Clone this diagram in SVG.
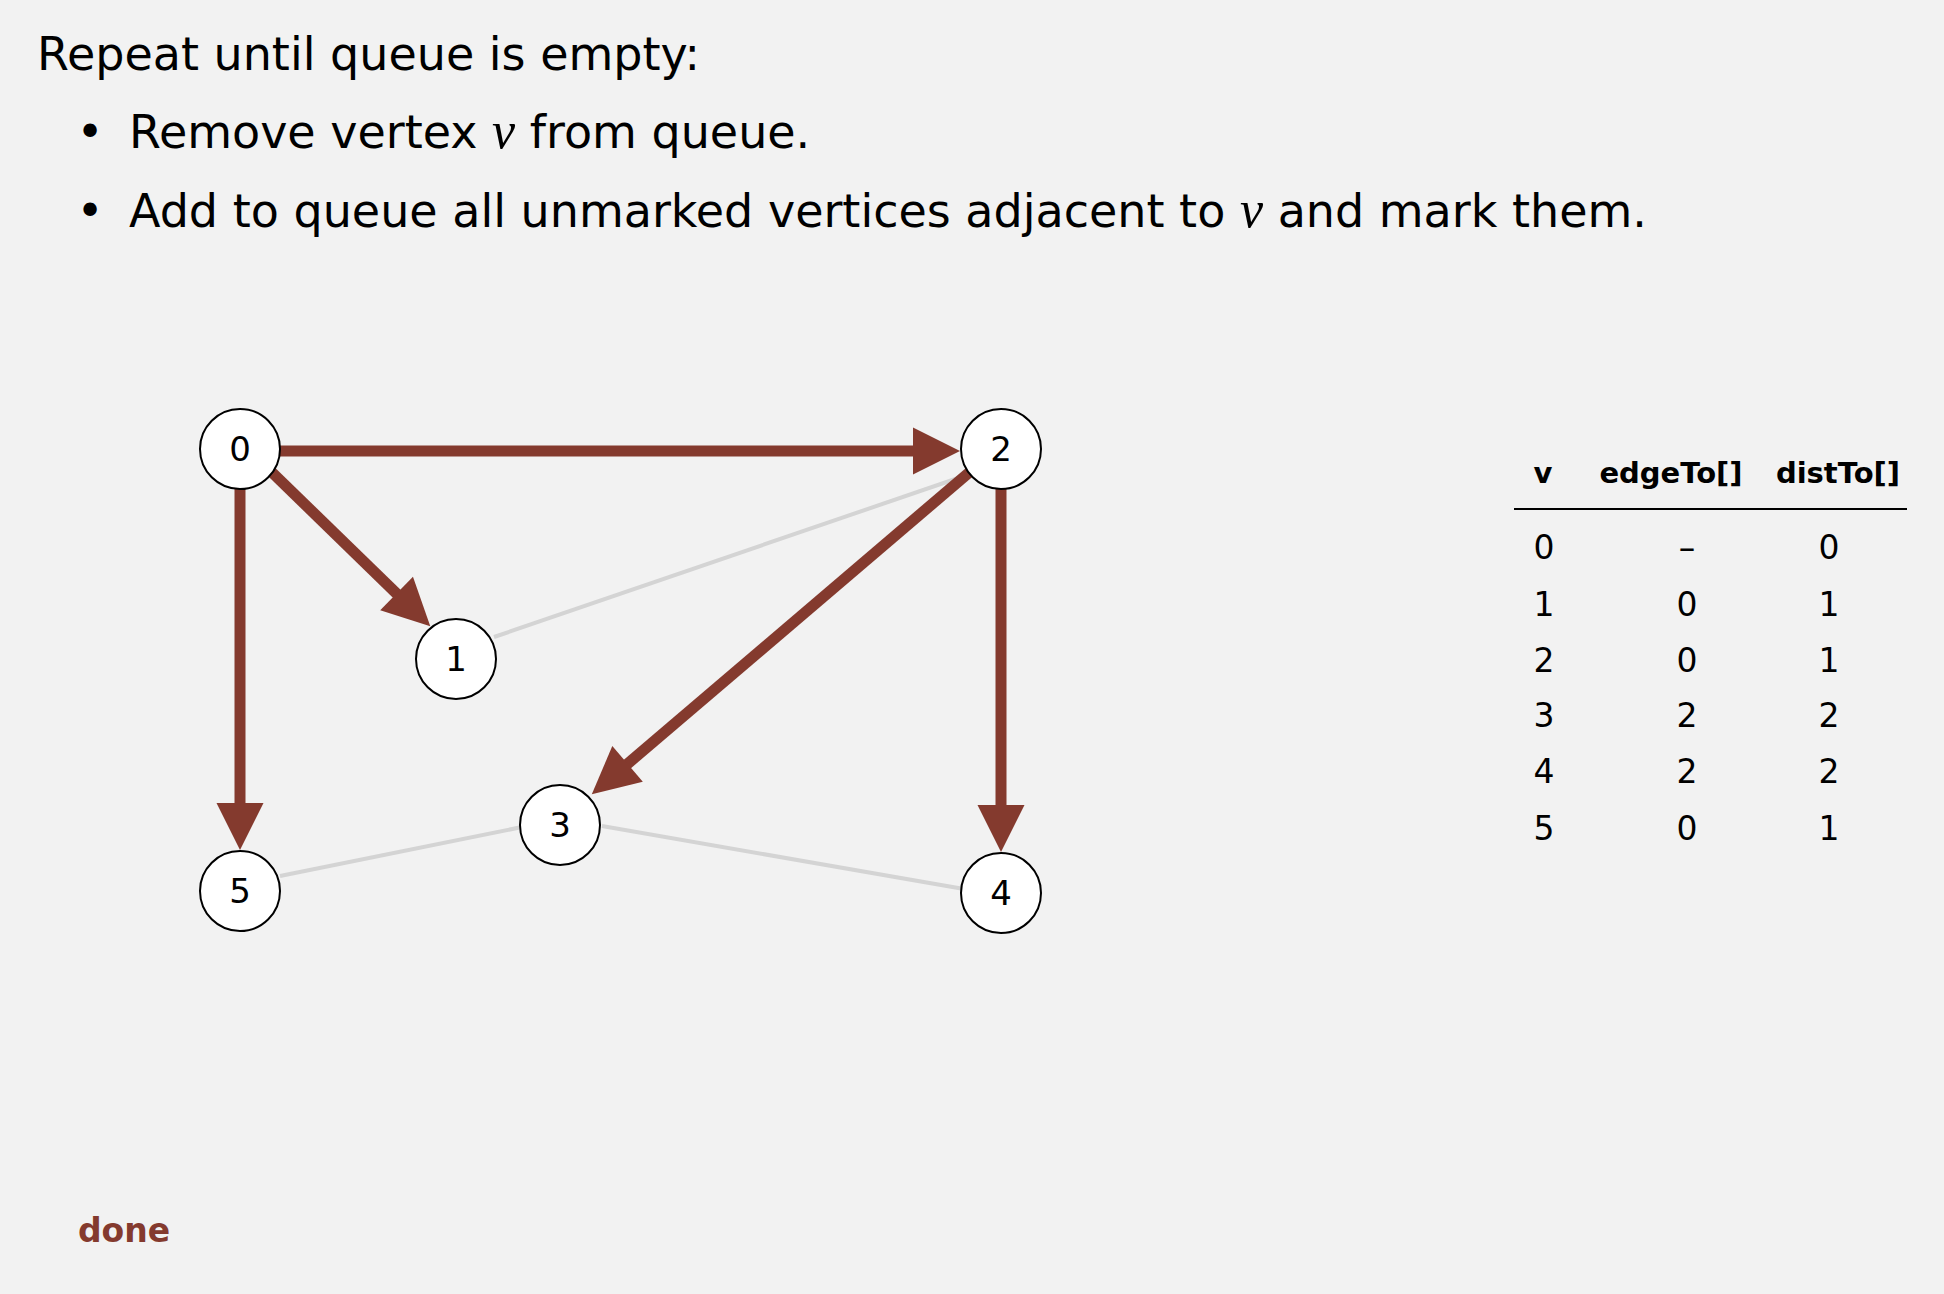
<svg xmlns="http://www.w3.org/2000/svg" width="1944" height="1294" viewBox="0 0 1944 1294">
<style>
.t{font-family:"DejaVu Sans","Liberation Sans",sans-serif;fill:#000}
.it{font-family:"Liberation Serif",serif;font-style:italic;font-size:52px}
.tree{stroke:#843A2E;stroke-width:11;fill:none;marker-end:url(#ah)}
.gray{stroke:#d4d4d4;stroke-width:4;fill:none}
.node circle{fill:#fff;stroke:#000;stroke-width:2}
.node text{font-family:"DejaVu Sans","Liberation Sans",sans-serif;font-size:34px;text-anchor:middle;fill:#000}
.th{font-family:"DejaVu Sans","Liberation Sans",sans-serif;font-weight:bold;font-size:29px;text-anchor:middle}
.td{font-family:"DejaVu Sans","Liberation Sans",sans-serif;font-size:33px;text-anchor:middle}
</style>
<defs>
<marker id="ah" markerUnits="userSpaceOnUse" markerWidth="50" markerHeight="50" viewBox="0 -25 50 50" refX="1" refY="0" orient="auto" overflow="visible">
<path d="M0,-23.5 L47,0 L0,23.5 Z" fill="#843A2E"/>
</marker>
</defs>
<rect width="1944" height="1294" fill="#f2f2f2"/>
<g id="header">
<text class="t" x="37" y="70" font-size="46">Repeat until queue is empty:</text>
<text class="t" x="90" y="148" font-size="46" text-anchor="middle">•</text>
<text class="t" x="129" y="148" font-size="46">Remove vertex <tspan class="it">v</tspan> from queue.</text>
<text class="t" x="90" y="227" font-size="46" text-anchor="middle">•</text>
<text class="t" x="129" y="227" font-size="46">Add to queue all unmarked vertices adjacent to <tspan class="it">v</tspan> and mark them.</text>
</g>
<g id="connectors">
<line class="gray" x1="494" y1="637" x2="967" y2="475"/>
<line class="gray" x1="280" y1="876" x2="522" y2="827"/>
<line class="gray" x1="602" y1="826" x2="964" y2="889"/>
<line class="tree" x1="240" y1="451" x2="914" y2="451"/>
<line class="tree" x1="239.6" y1="440.9" x2="397.3" y2="594.2"/>
<line class="tree" x1="240" y1="449" x2="240" y2="804"/>
<line class="tree" x1="998.9" y1="447.1" x2="626.8" y2="764.5"/>
<line class="tree" x1="1001" y1="449" x2="1001" y2="806"/>
</g>
<g id="node0" class="node"><circle cx="240" cy="449" r="40"/><text x="240" y="461">0</text></g>
<g id="node1" class="node"><circle cx="456" cy="659" r="40"/><text x="456" y="671">1</text></g>
<g id="node2" class="node"><circle cx="1001" cy="449" r="40"/><text x="1001" y="461">2</text></g>
<g id="node3" class="node"><circle cx="560" cy="825" r="40"/><text x="560" y="837">3</text></g>
<g id="node4" class="node"><circle cx="1001" cy="893" r="40"/><text x="1001" y="905">4</text></g>
<g id="node5" class="node"><circle cx="240" cy="891" r="40"/><text x="240" y="903">5</text></g>
<g id="table">
<text class="th" x="1543" y="483">v</text>
<text class="th" x="1671" y="483">edgeTo[]</text>
<text class="th" x="1838" y="483">distTo[]</text>
<line x1="1514" y1="509" x2="1907" y2="509" stroke="#000" stroke-width="2"/>
<text class="td" x="1544" y="559">0</text><text class="td" x="1687" y="559">–</text><text class="td" x="1829" y="559">0</text>
<text class="td" x="1544" y="616">1</text><text class="td" x="1687" y="616">0</text><text class="td" x="1829" y="616">1</text>
<text class="td" x="1544" y="672">2</text><text class="td" x="1687" y="672">0</text><text class="td" x="1829" y="672">1</text>
<text class="td" x="1544" y="727">3</text><text class="td" x="1687" y="727">2</text><text class="td" x="1829" y="727">2</text>
<text class="td" x="1544" y="783">4</text><text class="td" x="1687" y="783">2</text><text class="td" x="1829" y="783">2</text>
<text class="td" x="1544" y="840">5</text><text class="td" x="1687" y="840">0</text><text class="td" x="1829" y="840">1</text>
</g>
<text id="done" x="78" y="1242" font-family="DejaVu Sans, Liberation Sans, sans-serif" font-weight="bold" font-size="33" fill="#843A2E">done</text>
</svg>
